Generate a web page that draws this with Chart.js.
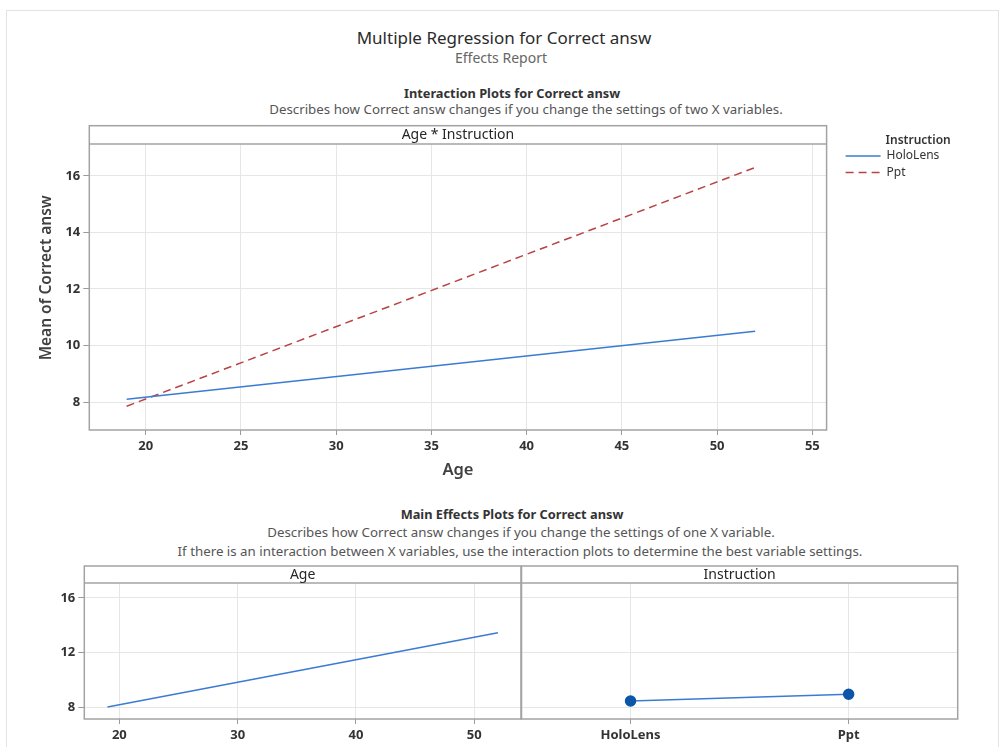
<!DOCTYPE html>
<html>
<head>
<meta charset="utf-8">
<script src="https://cdn.jsdelivr.net/npm/chart.js@4.4.0/dist/chart.umd.min.js"></script>
<style>
  body { margin: 0; background: #fff; font-family: "Noto Sans", sans-serif; }
  #page { position: relative; width: 1001px; height: 747px; overflow: hidden; background: #fff; }
  .frame { position: absolute; left: 6px; top: 10px; width: 991px; height: 760px; border: 1px solid #e3e3e3; }
  .txt { position: absolute; white-space: nowrap; transform: translateX(-50%); line-height: 20px; height: 20px; }
  canvas { position: absolute; }
</style>
</head>
<body>
<div id="page">
  <div class="frame"></div>
  <div class="txt" style="left:504px; top:28px; font-size:17px; color:#2b2b2b;">Multiple Regression for Correct answ</div>
  <div class="txt" style="left:501px; top:48px; font-size:14px; color:#666;">Effects Report</div>
  <div class="txt" style="left:512px; top:83px; font-size:12.8px; font-weight:bold; color:#333;">Interaction Plots for Correct answ</div>
  <div class="txt" style="left:526px; top:99px; font-size:13.3px; color:#555;">Describes how Correct answ changes if you change the settings of two X variables.</div>
  <div class="txt" style="left:512px; top:504px; font-size:12.8px; font-weight:bold; color:#333;">Main Effects Plots for Correct answ</div>
  <div class="txt" style="left:521px; top:522px; font-size:13.3px; color:#555;">Describes how Correct answ changes if you change the settings of one X variable.</div>
  <div class="txt" style="left:520px; top:541px; font-size:13.3px; color:#555;">If there is an interaction between X variables, use the interaction plots to determine the best variable settings.</div>

  <canvas id="interaction" width="1001" height="372" style="left:0; top:118px;"></canvas>
  <canvas id="mainAge" width="523" height="202" style="left:0; top:545px;"></canvas>
  <canvas id="mainInstruction" width="486" height="202" style="left:515px; top:545px;"></canvas>
</div>

<script>
// fitted means
const interactionAge = [19, 52];
const holoLensMean = [8.1, 10.5];
const pptMean = [7.85, 16.3];

const mainAge = [19, 52];
const mainAgeMean = [8.0, 13.45];

const instructionLevels = ['HoloLens', 'Ppt'];
const instructionMean = [8.44, 8.94];

// tick labels
const topXTicks = [20, 25, 30, 35, 40, 45, 50, 55];
const topYTicks = [8, 10, 12, 14, 16];
const bottomXTicks = [20, 30, 40, 50];
const bottomYTicks = [8, 12, 16];

const holoColor = '#3b7bd4';
const pptColor = '#b94343';
const gridColor = '#e6e6e6';
const tickColor = '#9a9a9a';
const fontFamily = '"Noto Sans", sans-serif';

function pts(xs, ys) {
  return xs.map((x, i) => ({ x: x, y: ys[i] }));
}

// box around each panel, with the strip label on top
const panelFrame = {
  id: 'panelFrame',
  afterDraw(chart, args, o) {
    const ctx = chart.ctx;
    const a = chart.chartArea;
    const top = a.top - o.strip;
    ctx.save();
    ctx.strokeStyle = '#a3a3a3';
    ctx.lineWidth = 1.5;
    ctx.strokeRect(a.left, top, a.right - a.left, a.bottom - top);
    ctx.beginPath();
    ctx.moveTo(a.left, a.top);
    ctx.lineTo(a.right, a.top);
    ctx.stroke();

    ctx.fillStyle = '#262626';
    ctx.font = '14px ' + fontFamily;
    ctx.textAlign = 'center';
    ctx.textBaseline = 'middle';
    ctx.fillText(o.label, (a.left + a.right) / 2, top + o.strip / 2 + 0.5);

    if (o.yTitle) {
      ctx.save();
      ctx.translate(o.yTitleX, (top + a.bottom) / 2);
      ctx.rotate(-Math.PI / 2);
      ctx.font = '600 15.5px ' + fontFamily;
      ctx.fillStyle = '#404040';
      ctx.fillText(o.yTitle, 0, 0);
      ctx.restore();
    }

    if (o.legendTitle) {
      const lx = a.right + 19;
      ctx.textAlign = 'left';
      ctx.font = '600 12px ' + fontFamily;
      ctx.fillStyle = '#333';
      ctx.fillText(o.legendTitle, lx + 40, a.top - 3.5);
      ctx.font = '12px ' + fontFamily;
      chart.data.datasets.forEach((ds, i) => {
        const y = a.top + 12 + i * 16.5;
        ctx.strokeStyle = ds.borderColor;
        ctx.lineWidth = ds.borderWidth;
        ctx.setLineDash(ds.borderDash || []);
        ctx.beginPath();
        ctx.moveTo(lx, y);
        ctx.lineTo(lx + 35, y);
        ctx.stroke();
        ctx.setLineDash([]);
        ctx.fillStyle = '#333';
        ctx.fillText(ds.label, lx + 41, y);
      });
    }
    ctx.restore();
  }
};

function linearX(min, max, ticks, height, title) {
  const s = {
    type: 'linear', min: min, max: max,
    afterBuildTicks: sc => { sc.ticks = ticks.map(v => ({ value: v })); },
    afterFit: sc => { sc.height = height; },
    border: { display: false },
    grid: { color: gridColor, tickColor: tickColor, tickLength: 5 },
    ticks: { autoSkip: false, padding: 3, color: '#333', font: { family: fontFamily, size: 13, weight: 'bold' } }
  };
  if (title) {
    s.title = { display: true, text: title, color: '#404040', padding: { top: 0, bottom: 10 },
      font: { family: fontFamily, size: 16.5, weight: '600' } };
  }
  return s;
}

function linearY(min, max, ticks, width, labels) {
  return {
    min: min, max: max,
    afterBuildTicks: sc => { sc.ticks = ticks.map(v => ({ value: v })); },
    afterFit: sc => { sc.width = width; },
    border: { display: false },
    grid: { color: gridColor, tickColor: tickColor, tickLength: 6, drawTicks: labels },
    ticks: { display: labels, padding: 3, color: '#333', font: { family: fontFamily, size: 13, weight: 'bold' } }
  };
}

const common = {
  responsive: false,
  animation: false,
  events: [],
  plugins: { legend: { display: false }, tooltip: { enabled: false } }
};

new Chart(document.getElementById('interaction'), {
  type: 'line',
  data: {
    datasets: [
      { label: 'HoloLens', data: pts(interactionAge, holoLensMean), borderColor: holoColor, borderWidth: 1.5, pointRadius: 0 },
      { label: 'Ppt', data: pts(interactionAge, pptMean), borderColor: pptColor, borderWidth: 1.5, borderDash: [8, 5], pointRadius: 0 }
    ]
  },
  options: Object.assign({}, common, {
    layout: { padding: { top: 26, left: 30, right: 174.4, bottom: 0 } },
    scales: {
      x: linearX(17.04, 55.75, topXTicks, 60, 'Age'),
      y: linearY(7.01, 17.13, topYTicks, 59.3, true)
    },
    plugins: Object.assign({}, common.plugins, {
      panelFrame: { strip: 18.3, label: 'Age * Instruction', yTitle: 'Mean of Correct answ', yTitleX: 47, legendTitle: 'Instruction' }
    })
  }),
  plugins: [panelFrame]
});

new Chart(document.getElementById('mainAge'), {
  type: 'line',
  data: {
    datasets: [
      { label: 'Age', data: pts(mainAge, mainAgeMean), borderColor: holoColor, borderWidth: 1.5, pointRadius: 0 }
    ]
  },
  options: Object.assign({}, common, {
    layout: { padding: { top: 38, left: 20, right: 2, bottom: 0 } },
    scales: {
      x: linearX(17.04, 53.95, bottomXTicks, 28),
      y: linearY(7.12, 17.1, bottomYTicks, 64.3, true)
    },
    plugins: Object.assign({}, common.plugins, {
      panelFrame: { strip: 17, label: 'Age' }
    })
  }),
  plugins: [panelFrame]
});

new Chart(document.getElementById('mainInstruction'), {
  type: 'line',
  data: {
    labels: instructionLevels,
    datasets: [
      { label: 'Instruction', data: instructionMean, borderColor: holoColor, borderWidth: 1.5,
        pointRadius: 5, pointBackgroundColor: '#0b56a8', pointBorderColor: '#0b56a8' }
    ]
  },
  options: Object.assign({}, common, {
    layout: { padding: { top: 38, left: 1.7, right: 43.3, bottom: 0 } },
    scales: {
      x: {
        type: 'category', offset: true,
        afterFit: sc => { sc.height = 28; },
        border: { display: false },
        grid: { offset: false, color: gridColor, tickColor: tickColor, tickLength: 5 },
        ticks: { padding: 3, color: '#333', font: { family: fontFamily, size: 13, weight: 'bold' } }
      },
      y: linearY(7.12, 17.1, bottomYTicks, 0, false)
    },
    plugins: Object.assign({}, common.plugins, {
      panelFrame: { strip: 17, label: 'Instruction' }
    })
  }),
  plugins: [panelFrame]
});
</script>
</body>
</html>
